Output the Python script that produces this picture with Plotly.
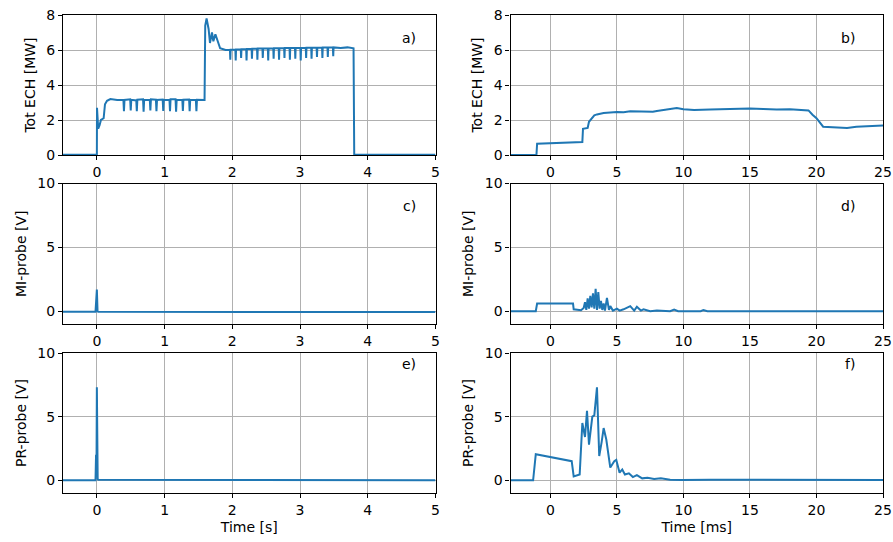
import plotly.graph_objects as go
from plotly.subplots import make_subplots

# ---------------- data ----------------
# a) Total ECH power [MW] vs time [s]
a_t = [-0.50, -0.01, 0.000, 0.002, 0.02, 0.04, 0.06, 0.10, 0.12, 0.15, 0.20, 0.30,
       0.392, 0.40, 0.408, 0.492, 0.50, 0.508, 0.582, 0.59, 0.598, 0.682, 0.69, 0.698,
       0.782, 0.79, 0.798, 0.872, 0.88, 0.888, 0.972, 0.98, 0.988, 1.072, 1.08, 1.088,
       1.162, 1.17, 1.178, 1.262, 1.27, 1.278, 1.362, 1.37, 1.378, 1.462, 1.47, 1.478,
       1.58, 1.59, 1.60, 1.62, 1.65, 1.67, 1.70, 1.72, 1.75, 1.78, 1.82, 1.90,
       1.965, 1.97, 1.975, 2.045, 2.05, 2.055, 2.125, 2.13, 2.135, 2.205, 2.21, 2.215,
       2.285, 2.29, 2.295, 2.365, 2.37, 2.375, 2.445, 2.45, 2.455, 2.525, 2.53, 2.535,
       2.605, 2.61, 2.615, 2.685, 2.69, 2.695, 2.765, 2.77, 2.775, 2.845, 2.85, 2.855,
       2.925, 2.93, 2.935, 3.005, 3.01, 3.015, 3.085, 3.09, 3.095, 3.165, 3.17, 3.175,
       3.245, 3.25, 3.255, 3.325, 3.33, 3.335, 3.405, 3.41, 3.415, 3.485, 3.49, 3.495,
       3.60, 3.70, 3.79, 3.80, 3.85, 5.00]
a_v = [0.02, 0.02, 0.02, 2.70, 1.50, 1.70, 2.00, 2.10, 2.90, 3.10, 3.20, 3.15,
       3.15, 2.50, 3.15, 3.18, 2.55, 3.15, 3.12, 2.50, 3.16, 3.18, 2.48, 3.15,
       3.15, 2.55, 3.18, 3.16, 2.50, 3.15, 3.17, 2.52, 3.14, 3.15, 2.50, 3.18,
       3.18, 2.48, 3.15, 3.15, 2.52, 3.16, 3.17, 2.50, 3.15, 3.15, 2.50, 3.16,
       3.15, 3.15, 7.40, 7.80, 7.20, 6.40, 7.00, 6.50, 6.90, 6.60, 6.10, 6.00,
       6.00, 5.45, 6.02, 6.02, 5.40, 6.03, 6.04, 5.55, 6.05, 6.05, 5.40, 6.06,
       6.06, 5.50, 6.07, 6.07, 5.45, 6.08, 6.08, 5.55, 6.08, 6.08, 5.40, 6.09,
       6.09, 5.50, 6.10, 6.10, 5.45, 6.10, 6.10, 5.55, 6.11, 6.11, 5.45, 6.11,
       6.11, 5.50, 6.12, 6.12, 5.40, 6.12, 6.12, 5.55, 6.13, 6.13, 5.50, 6.13,
       6.13, 5.60, 6.13, 6.14, 5.55, 6.14, 6.14, 5.60, 6.14, 6.14, 5.65, 6.15,
       6.12, 6.15, 6.10, 0.02, 0.02, 0.02]

# b) Total ECH power [MW] vs time [ms]
b_t = [-3.0, -1.05, -1.0, 0.0, 1.0, 2.0, 2.4, 2.45, 2.8, 2.9, 3.0, 3.3, 3.5, 4.0, 5.0, 5.5,
       6.0, 7.0, 7.7, 8.0, 9.0, 9.5, 10.0, 10.8, 12.0, 13.0, 14.0, 15.0, 16.0, 17.0,
       18.0, 18.9, 19.4, 19.7, 20.0, 20.5, 21.0, 22.3, 23.0, 24.0, 25.0]
b_v = [0.0, 0.0, 0.65, 0.68, 0.70, 0.72, 0.74, 1.50, 1.55, 1.90, 2.00, 2.27, 2.32, 2.40,
       2.46, 2.45, 2.50, 2.48, 2.47, 2.52, 2.62, 2.68, 2.62, 2.57, 2.60, 2.62, 2.60,
       2.66, 2.63, 2.60, 2.62, 2.60, 2.55, 2.30, 2.10, 1.62, 1.60, 1.55, 1.62, 1.65, 1.68]

# c) MI-probe [V] vs time [s]
c_t = [-0.50, -0.02, 0.000, 0.004, 0.010, 0.020, 0.50, 1.00, 1.50, 2.00, 2.50, 3.00,
       3.50, 4.00, 4.50, 5.00]
c_v = [-0.05, -0.05, 1.70, 0.60, 0.00, -0.05, -0.05, -0.07, -0.05, -0.06, -0.05, -0.06,
       -0.05, -0.07, -0.05, -0.06]

# d) MI-probe [V] vs time [ms]
d_t = [-3.0, -1.1, -1.0, 1.7, 1.75, 2.3, 2.5, 2.6, 2.7, 2.8, 2.9, 3.0, 3.1, 3.2, 3.3,
       3.4, 3.5, 3.6, 3.7, 3.8, 3.9, 4.0, 4.1, 4.25, 4.4, 4.5, 4.7, 5.0, 5.2, 5.5, 6.0,
       6.3, 6.5, 6.8, 7.0, 7.5, 8.0, 9.0, 9.3, 9.6, 11.3, 11.5, 11.8, 25.0]
d_v = [0.0, 0.0, 0.60, 0.60, 0.15, 0.08, 0.25, 0.70, 0.10, 1.00, 0.20, 1.20, 0.30, 1.40,
       0.20, 1.75, 0.10, 1.50, 0.20, 0.80, 0.10, 0.60, 0.05, 1.05, 0.10, 0.40, 0.05, 0.20,
       0.05, 0.15, 0.40, 0.05, 0.35, 0.05, 0.15, 0.00, 0.05, 0.00, 0.12, 0.00, 0.00, 0.10,
       0.00, 0.00]

# e) PR-probe [V] vs time [s]
e_t = [-0.50, -0.02, -0.012, -0.006, 0.000, 0.006, 0.012, 0.02, 0.10, 1.00, 2.00, 3.00,
       4.00, 5.00]
e_v = [0.00, 0.00, 2.00, 0.30, 7.30, 1.00, 0.10, 0.05, 0.05, 0.04, 0.03, 0.03, 0.02, 0.00]

# f) PR-probe [V] vs time [ms]
f_t = [-3.0, -1.3, -1.1, 1.5, 1.6, 1.75, 2.2, 2.4, 2.6, 2.75, 2.9, 3.15, 3.3, 3.5, 3.67,
       3.85, 4.0, 4.2, 4.5, 4.8, 4.95, 5.2, 5.4, 5.6, 5.9, 6.2, 6.5, 6.9, 7.3, 7.8, 8.3,
       9.0, 9.9, 12.0, 15.0, 20.0, 25.0]
f_v = [0.0, 0.0, 2.05, 1.55, 1.50, 0.30, 0.45, 4.50, 3.40, 5.45, 2.80, 5.00, 5.10, 7.30,
       1.90, 3.00, 4.10, 3.20, 1.00, 1.50, 1.60, 0.60, 0.85, 0.45, 0.55, 0.25, 0.40, 0.15,
       0.20, 0.10, 0.15, 0.05, 0.03, 0.05, 0.04, 0.03, 0.03]

labels = ["a)", "b)", "c)", "d)", "e)", "f)"]
y_titles = ["Tot ECH [MW]", "MI-probe [V]", "PR-probe [V]"]
x_titles = ["Time [s]", "Time [ms]"]

# ---------------- figure ----------------
W, H = 893, 542
fig = make_subplots(rows=3, cols=2)
series = [(a_t, a_v), (b_t, b_v), (c_t, c_v), (d_t, d_v), (e_t, e_v), (f_t, f_v)]
for i, (tt, vv) in enumerate(series):
    r, c = i // 2 + 1, i % 2 + 1
    fig.add_trace(go.Scatter(x=tt, y=vv, mode="lines",
                             line=dict(color="#1f77b4", width=2), showlegend=False),
                  row=r, col=c)

xdom = [(63 / W, 435.5 / W), (510.5 / W, 883 / W)]
ydom = [(1 - 155 / H, 1 - 15 / H), (1 - 324 / H, 1 - 183.5 / H), (1 - 493 / H, 1 - 353 / H)]
xrng = [[-0.5, 5], [-3, 25]]
xtick = [[0, 1, 2, 3, 4, 5], [0, 5, 10, 15, 20, 25]]

font = dict(family="DejaVu Sans", size=14, color="black")
axis_common = dict(showline=True, linecolor="black", linewidth=1.2, mirror=True,
                   ticks="outside", ticklen=4, tickcolor="black", showgrid=True,
                   gridcolor="#b0b0b0", gridwidth=1, zeroline=False, tickfont=font,
                   automargin=False)

for i in range(6):
    r, c = i // 2, i % 2
    n = i + 1
    xa = "xaxis" if n == 1 else f"xaxis{n}"
    ya = "yaxis" if n == 1 else f"yaxis{n}"
    xd = dict(axis_common, domain=list(xdom[c]), range=xrng[c], tickvals=xtick[c])
    if r == 2:
        xd["title"] = dict(text=x_titles[c], font=font, standoff=5)
    fig.layout[xa].update(xd)
    if r == 0:
        yd = dict(axis_common, domain=list(ydom[r]), range=[0, 8], tickvals=[0, 2, 4, 6, 8])
    else:
        yd = dict(axis_common, domain=list(ydom[r]), range=[-1, 10], tickvals=[0, 5, 10])
    yd["title"] = dict(text=y_titles[r], font=font, standoff=7)
    fig.layout[ya].update(yd)
    lx = (409 if c == 0 else 857) / W
    ly = 1 - [28, 206, 374][r] / H
    fig.add_annotation(text=labels[i], x=lx, y=ly, xref="paper", yref="paper",
                       showarrow=False, font=font)

fig.update_layout(autosize=True, margin=dict(l=0, r=0, t=0, b=0),
                  paper_bgcolor="white", plot_bgcolor="white", font=font)

post = """
document.documentElement.style.height='100%';
document.documentElement.style.margin='0';
document.documentElement.style.overflow='hidden';
document.body.style.height='100%';
document.body.style.margin='0';
document.body.style.overflow='hidden';
var gd = document.getElementById('{plot_id}');
gd.style.width='100%'; gd.style.height='100%';
if (gd.parentElement) { gd.parentElement.style.width='100%'; gd.parentElement.style.height='100%'; }
Plotly.Plots.resize(gd);
"""
fig.write_html("out.html", default_width="100%", default_height="100%",
               config={"displayModeBar": False, "responsive": True},
               post_script=post)
